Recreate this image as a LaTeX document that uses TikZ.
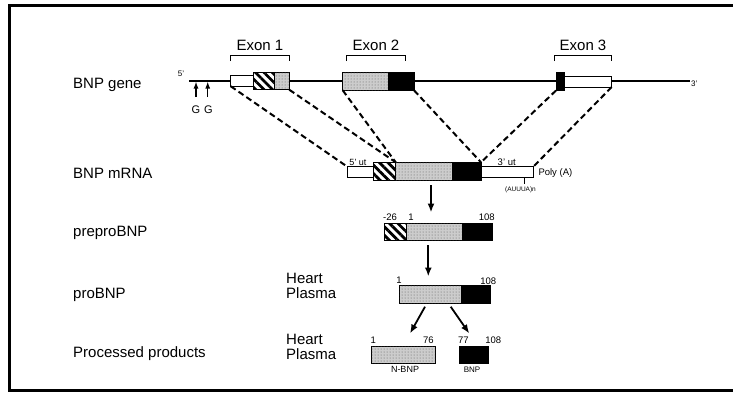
\documentclass[tikz,border=0pt]{standalone}
\usepackage{fontspec}
\setmainfont{Liberation Sans}
\usetikzlibrary{patterns,patterns.meta,arrows.meta}
\begin{document}
\begin{tikzpicture}[x=1pt,y=-1pt,
  box/.style={draw,line width=1pt,inner sep=0pt,outer sep=0pt},
  utr/.style={box,fill=white,minimum height=10.5pt},
  hatchbox/.style={box,fill=white,minimum height=17.5pt,
    postaction={pattern={Lines[angle=-45,distance=6pt,line width=2.8pt]}}},
  stip/.style={box,fill=gray!40,minimum height=17.5pt,
    postaction={pattern=dots,pattern color=black!65}},
  blk/.style={box,fill=black,minimum height=17.5pt},
  lbl/.style={font=\fontsize{15}{15}\selectfont,inner sep=0pt,anchor=base west,align=left},
  exlbl/.style={font=\fontsize{15}{15}\selectfont,inner sep=0pt,anchor=base},
  num/.style={font=\fontsize{9.5}{9.5}\selectfont,inner sep=0pt},
  tiny/.style={inner sep=0pt},
  brk/.style={line width=1pt},
  dsh/.style={line width=2pt,dash pattern=on 6pt off 3.5pt},
  bigarrow/.style={line width=1.8pt,-{Latex[length=9pt,width=7pt]}},
  garrow/.style={line width=1.3pt,-{Latex[length=7pt,width=5pt]}}]
\useasboundingbox (0,0) rectangle (733,394);
% frame
\draw[line width=3pt] (733,5.5) -- (9.5,5.5) -- (9.5,390.5) -- (733,390.5);

% row labels
\node[lbl] (tgene) at (73,88.7) {BNP gene};
\node[lbl] (tmrna) at (73,178.7) {BNP mRNA};
\node[lbl] (tpre) at (73,236) {preproBNP};
\node[lbl] (tpro) at (73,298) {proBNP};
\node[lbl] (tproc) at (73,357) {Processed products};
\node[lbl] (hp1) at (286,298.7) {Heart\\Plasma};
\node[lbl] (hp2) at (286,359.4) {Heart\\Plasma};

% gene line
\coordinate (g5) at (189,81);
\coordinate (g3) at (690,81);
\draw[line width=1.2pt] (g5) -- (g3);
\node[tiny,font=\fontsize{8}{8}\selectfont] (p5) at (181,73.5) {5’};
\node[tiny,font=\fontsize{8}{8}\selectfont,anchor=west] (p3) at (691,84) {3’};

% G arrows
\coordinate (ga1) at (196,97);
\coordinate (ga1t) at (196,81.5);
\coordinate (ga2) at (207.7,97);
\coordinate (ga2t) at (207.7,81.5);
\draw[garrow] (ga1) -- (ga1t);
\draw[garrow] (ga2) -- (ga2t);
\node[tiny,font=\fontsize{11}{11}\selectfont] (gl1) at (195.8,110) {G};
\node[tiny,font=\fontsize{11}{11}\selectfont] (gl2) at (208.5,110) {G};

% exons
\node[utr,minimum width=22.6pt] (e1w) at (242,81) {};
\node[hatchbox,minimum width=21pt] (e1h) at (263.8,81) {};
\node[stip,minimum width=15pt] (e1d) at (281.8,81) {};
\node[stip,minimum width=46pt,minimum height=18pt] (e2d) at (365.7,81.3) {};
\node[blk,minimum width=25.3pt,minimum height=18pt] (e2b) at (401.35,81.3) {};
\node[blk,minimum width=8pt,minimum height=18pt] (e3b) at (560,81.5) {};
\node[utr,minimum width=47.7pt] (e3w) at (587.85,81.8) {};

% exon brackets and labels
\draw[brk] (230.7,61) -- (230.7,55) -- (289.3,55) -- (289.3,61);
\draw[brk] (346,61) -- (346,55) -- (405,55) -- (405,61);
\draw[brk] (554.3,61) -- (554.3,55) -- (611,55) -- (611,61);
\node[exlbl] (x1) at (260,50.4) {Exon 1};
\node[exlbl] (x2) at (376,50.4) {Exon 2};
\node[exlbl] (x3) at (583,50.4) {Exon 3};

% mRNA
\node[utr,minimum width=26pt,minimum height=11pt] (mw1) at (360.3,172.2) {};
\node[hatchbox,minimum width=22.4pt,minimum height=18.4pt] (mh) at (384.5,171.5) {};
\node[stip,minimum width=57pt,minimum height=18.4pt] (md) at (424.2,171.5) {};
\node[blk,minimum width=28.3pt,minimum height=18.4pt] (mb) at (466.85,171.5) {};
\node[utr,minimum width=52.3pt,minimum height=11pt] (mw2) at (507.15,172.2) {};
\node[tiny,font=\fontsize{9}{9}\selectfont,anchor=base] (u5) at (358,165.3) {5’ ut};
\node[tiny,font=\fontsize{9.5}{9.5}\selectfont,anchor=base] (u3) at (506.7,165.3) {3’ ut};
\node[tiny,font=\fontsize{9.5}{9.5}\selectfont,anchor=west] (poly) at (538.3,172.7) {Poly (A)};
\coordinate (au1) at (524,177.7);
\coordinate (au2) at (524,183.5);
\draw[line width=0.9pt] (au1) -- (au2);
\node[tiny,font=\fontsize{6.5}{6.5}\selectfont] (auu) at (520.5,190) {(AUUUA)n};

% dashed connections
\draw[dsh] (e1w.south west) -- (mw1.north west);
\draw[dsh] (e1d.south east) -- (mh.north east);
\draw[dsh] (e2d.south west) -- (mh.north east);
\draw[dsh] (e2b.south east) -- (mb.north east);
\draw[dsh] (e3b.south west) -- (mb.north east);
\draw[dsh] (e3w.south east) -- (mw2.north east);

% arrow mRNA -> prepro
\coordinate (a1s) at (431,185);
\coordinate (a1e) at (431,212.5);
\draw[bigarrow] (a1s) -- (a1e);

% preproBNP
\node[hatchbox,minimum width=22pt,minimum height=16.7pt] (ph) at (395,231.7) {};
\node[stip,minimum width=56.7pt,minimum height=16.7pt] (pd) at (434.35,231.7) {};
\node[blk,minimum width=29.6pt,minimum height=16.7pt] (pb) at (477.5,231.7) {};
\node[num] (n26) at (390,217.3) {-26};
\node[num] (n1a) at (411,217.3) {1};
\node[num] (n108a) at (486.7,217.3) {108};

% arrow prepro -> pro
\coordinate (a2s) at (428.3,245);
\coordinate (a2e) at (428.3,276.5);
\draw[bigarrow] (a2s) -- (a2e);

% proBNP
\node[stip,minimum width=62.4pt,minimum height=18.3pt] (rd) at (430.5,294.2) {};
\node[blk,minimum width=29pt,minimum height=18.3pt] (rb) at (476.2,294.2) {};
\node[num] (n1b) at (399,280.7) {1};
\node[num] (n108b) at (488.3,281) {108};

% arrows pro -> products
\coordinate (a3s) at (425,306.7);
\coordinate (a3e) at (410,333.5);
\coordinate (a4s) at (450.7,306.7);
\coordinate (a4e) at (469.3,333.5);
\draw[bigarrow] (a3s) -- (a3e);
\draw[bigarrow] (a4s) -- (a4e);

% products
\node[stip,minimum width=63.3pt,minimum height=16.6pt] (nd) at (403.35,355) {};
\node[blk,minimum width=29.3pt,minimum height=16.6pt] (bb) at (473.65,355) {};
\node[num] (n1c) at (373.3,340) {1};
\node[num] (n76) at (428.3,340) {76};
\node[num] (n77) at (463.3,340) {77};
\node[num] (n108c) at (493.3,340) {108};
\node[tiny,font=\fontsize{9}{9}\selectfont] (nbnp) at (405,369.5) {N-BNP};
\node[tiny,font=\fontsize{8}{8}\selectfont] (bnp) at (472,369.5) {BNP};
\end{tikzpicture}
\end{document}
